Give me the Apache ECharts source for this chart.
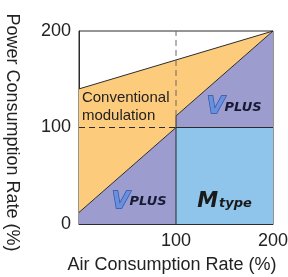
<!DOCTYPE html>
<html>
<head>
<meta charset="utf-8">
<script src="https://cdn.jsdelivr.net/npm/echarts@6/dist/echarts.min.js"></script>
<style>
  html, body { margin: 0; padding: 0; background: #fff; }
  #main { width: 288px; height: 277px; }
</style>
</head>
<body>
<div id="main"></div>
<script>
// axis ticks
var xTicks = [0, 100, 200];
var yTicks = [0, 100, 200];

// filled regions (air %, power %)
var conventionalArea = [[0, 12], [0, 140], [200, 200], [100, 112], [100, 100]];
var vplusLow = [[0, 0], [0, 12], [100, 100], [100, 0]];
var vplusHigh = [[100, 100], [100, 112], [200, 200], [200, 100]];
var mtypeArea = [[100, 0], [100, 100], [200, 100], [200, 0]];

// outlines
var solidLines = [
  [[0, 140], [200, 200]],
  [[0, 12], [100, 100]],
  [[100, 112], [200, 200]],
  [[100, 100], [200, 100]],
  [[100, 0], [100, 112]]
];
var dashGray = [[100, 112], [100, 200]];
var dashDark = [[0, 100], [100, 100]];

// label anchors
var convLabelPos = [3, 121];
var vplusHighPos = [160, 121];
var vplusLowPos = [62, 23];
var mtypePos = [150, 23];

var colors = {
  conv: "#FDCB7C",
  vplus: "#9D9CCF",
  mtype: "#8FC5EA",
  line: "#2b2b2b"
};

function polyItem(points, fill, api) {
  return {
    type: "polygon",
    shape: { points: points.map(function (p) { return api.coord(p); }) },
    style: { fill: fill, stroke: null }
  };
}
function lineItem(points, api, dash, color) {
  return {
    type: "polyline",
    shape: { points: points.map(function (p) { return api.coord(p); }) },
    style: { stroke: color || colors.line, lineWidth: 1, lineDash: dash || null, fill: null }
  };
}

var chart = echarts.init(document.getElementById("main"));
chart.setOption({
  animation: false,
  grid: {
    left: 79, right: 15, top: 31, bottom: 53,
    outerBoundsMode: "none",
    containLabel: false,
    show: true, borderColor: colors.line, borderWidth: 1
  },
  xAxis: {
    type: "value", min: xTicks[0], max: xTicks[2], interval: 100,
    name: "Air Consumption Rate (%)",
    nameLocation: "middle", nameGap: 32,
    nameTextStyle: { fontFamily: "Liberation Sans", fontSize: 18, color: "#222", padding: [0, 8, 0, 0] },
    axisLine: { show: true, lineStyle: { color: colors.line } },
    axisTick: { show: false },
    splitLine: { show: false },
    axisLabel: {
      margin: 8, fontFamily: "Liberation Sans", fontSize: 18, color: "#222",
      formatter: function (v) { return v === 0 ? "" : String(v); }
    }
  },
  yAxis: {
    type: "value", min: yTicks[0], max: yTicks[2], interval: 100,
    name: "Power Consumption Rate (%)",
    nameLocation: "middle", nameGap: 58, nameRotate: -90,
    nameTextStyle: { fontFamily: "Liberation Sans", fontSize: 18, color: "#222", padding: [0, 0, 0, 10] },
    axisLine: { show: true, lineStyle: { color: colors.line } },
    axisTick: { show: false },
    splitLine: { show: false },
    axisLabel: { margin: 8, fontFamily: "Liberation Sans", fontSize: 18, color: "#222" }
  },
  series: [
    {
      type: "custom",
      data: [[0]],
      silent: true,
      renderItem: function (params, api) {
        var children = [
          polyItem(conventionalArea, colors.conv, api),
          polyItem(vplusLow, colors.vplus, api),
          polyItem(vplusHigh, colors.vplus, api),
          polyItem(mtypeArea, colors.mtype, api)
        ];
        solidLines.forEach(function (l) { children.push(lineItem(l, api)); });
        children.push(lineItem(dashGray, api, [6, 4], "#666"));
        children.push(lineItem(dashDark, api, [6, 4], colors.line));

        var c = api.coord(convLabelPos);
        children.push({
          type: "text", x: c[0], y: c[1],
          style: {
            text: "Conventional\nmodulation", fill: "#222",
            font: "15px 'Liberation Sans'", lineHeight: 18,
            align: "left", verticalAlign: "middle"
          }
        });
        var vRich = {
          v: { fontFamily: "DejaVu Sans", fontWeight: "bold", fontStyle: "italic", fontSize: 23,
               fill: "#6a8fdc", stroke: "#2752a8", lineWidth: 1.3 },
          p: { fontFamily: "DejaVu Sans", fontWeight: "bold", fontStyle: "italic", fontSize: 13,
               fill: "#161a33" }
        };
        [vplusHighPos, vplusLowPos].forEach(function (pos) {
          var q = api.coord(pos);
          children.push({
            type: "text", x: q[0], y: q[1],
            style: { text: "{v|V}{p|PLUS}", rich: vRich, align: "center", verticalAlign: "middle" }
          });
        });
        var m = api.coord(mtypePos);
        children.push({
          type: "text", x: m[0], y: m[1],
          style: {
            text: "{m|M}{t|type}", align: "center", verticalAlign: "middle",
            rich: {
              m: { fontFamily: "DejaVu Sans", fontWeight: "bold", fontStyle: "italic", fontSize: 21, fill: "#1a1a1a" },
              t: { fontFamily: "DejaVu Sans", fontWeight: "bold", fontStyle: "italic", fontSize: 13, fill: "#1a1a1a", padding: [4, 0, 0, 1] }
            }
          }
        });
        return { type: "group", children: children };
      }
    }
  ]
});
</script>
</body>
</html>
